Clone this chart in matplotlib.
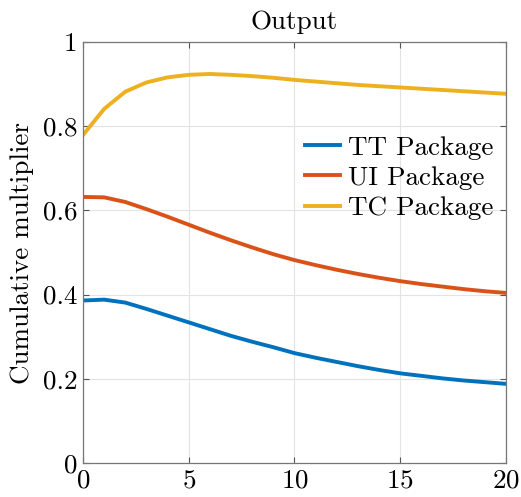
import matplotlib
matplotlib.use("Agg")
import matplotlib.pyplot as plt
from matplotlib.ticker import FuncFormatter

plt.rcParams["font.family"] = "serif"
plt.rcParams["font.serif"] = ["cmr10"]
plt.rcParams["axes.formatter.use_mathtext"] = True
plt.rcParams["mathtext.fontset"] = "cm"

steps = list(range(21))
tt_package = [0.386, 0.388, 0.381, 0.366, 0.350, 0.334, 0.318, 0.302, 0.288, 0.275, 0.261,
              0.250, 0.240, 0.230, 0.221, 0.213, 0.207, 0.201, 0.196, 0.192, 0.188]
ui_package = [0.632, 0.631, 0.620, 0.603, 0.585, 0.566, 0.547, 0.529, 0.512, 0.496, 0.482,
              0.470, 0.459, 0.449, 0.440, 0.432, 0.425, 0.419, 0.413, 0.408, 0.404]
tc_package = [0.779, 0.841, 0.882, 0.904, 0.916, 0.922, 0.924, 0.922, 0.919, 0.915, 0.910,
              0.906, 0.902, 0.898, 0.895, 0.892, 0.889, 0.886, 0.883, 0.880, 0.877]
labels = ["TT Package", "UI Package", "TC Package"]
colors = ["#0072BD", "#D95319", "#EDB120"]

FS = 19.5

fig = plt.figure(figsize=(5.21, 4.97), dpi=100)
ax = fig.add_axes([0.1593, 0.0684, 0.8119, 0.8471])

for series, name, col in zip([tt_package, ui_package, tc_package], labels, colors):
    ax.plot(steps, series, color=col, lw=2.8, label=name)

ax.set_xlim(0, 20)
ax.set_ylim(0, 1)
ax.set_xticks([0, 5, 10, 15, 20])
ax.set_yticks([0, 0.2, 0.4, 0.6, 0.8, 1])
ax.yaxis.set_major_formatter(FuncFormatter(lambda v, p: f"{v:g}"))
ax.tick_params(direction="in", length=4, width=0.8, color="#555555",
               top=True, right=True, labelsize=FS, pad=4)
ax.grid(True, color="#e3e3e3", lw=0.8)
for sp in ax.spines.values():
    sp.set_color("#777777")
    sp.set_linewidth(0.9)

ax.set_title("Output", fontsize=FS, pad=9)
ax.set_ylabel("Cumulative multiplier", fontsize=FS, labelpad=6)

ax.legend(loc="center right", bbox_to_anchor=(1.0, 0.677), frameon=False, fontsize=FS,
          handlelength=1.3, handletextpad=0.3, labelspacing=0.23, borderaxespad=0.05)

fig.savefig("out.png", dpi=100)
